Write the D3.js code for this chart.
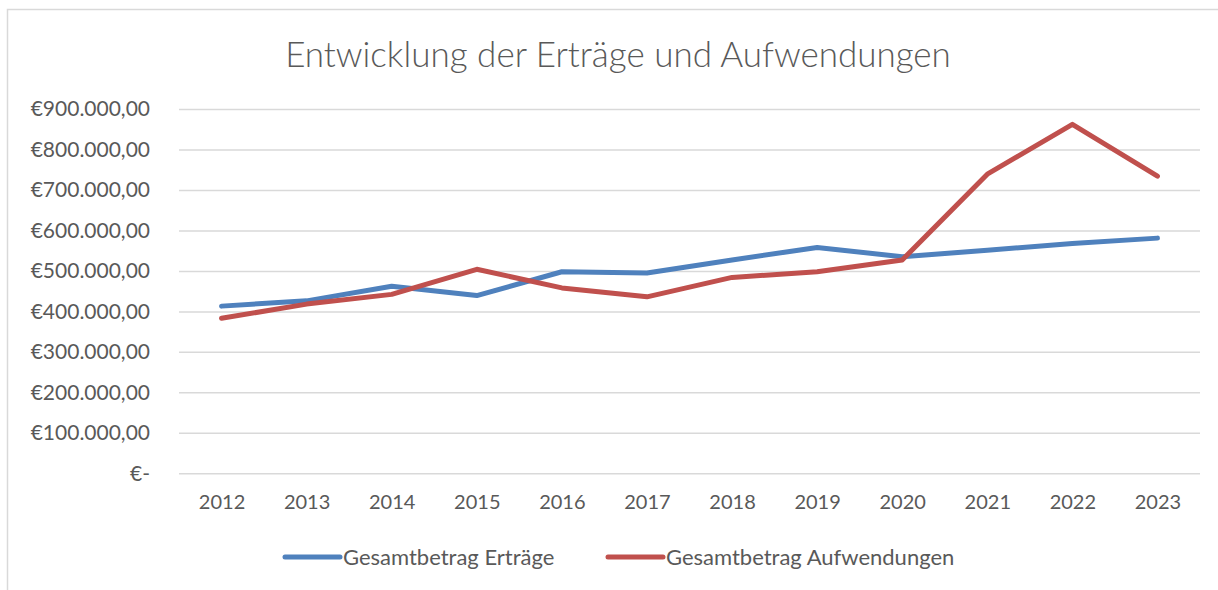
<!DOCTYPE html>
<html lang="de">
<head>
<meta charset="UTF-8">
<title>Entwicklung der Erträge und Aufwendungen</title>
<style>
  body { margin: 0; background: #fff; }
  svg text { font-family: Lato, "Open Sans", sans-serif; fill: #595959; }
</style>
</head>
<body>
<script src="https://d3js.org/d3.v7.min.js"></script>
<script>
// data
var years = ["2012","2013","2014","2015","2016","2017","2018","2019","2020","2021","2022","2023"];
var ertraege = [413000, 426000, 462000, 439000, 498000, 495000, 527000, 558000, 535000, 551000, 568000, 581000];
var aufwendungen = [383000, 418000, 442000, 504000, 458000, 436000, 484000, 498000, 527000, 739000, 862000, 734000];
var yTicks = [0, 100000, 200000, 300000, 400000, 500000, 600000, 700000, 800000, 900000];
var seriesNames = ["Gesamtbetrag Erträge", "Gesamtbetrag Aufwendungen"];
var colors = ["#4F81BD", "#C0504D"];

var width = 1218, height = 590;
var plot = {left: 179, right: 1200, top: 109, bottom: 473.3};

var svg = d3.select("body").append("svg")
    .attr("width", width)
    .attr("height", height);

// chart frame
svg.append("rect")
    .attr("x", 7.5).attr("y", 9.5)
    .attr("width", 1230).attr("height", 600)
    .attr("fill", "none")
    .attr("stroke", "#D9D9D9")
    .attr("stroke-width", 1.5);

svg.append("text")
    .attr("x", 618).attr("y", 67)
    .attr("text-anchor", "middle")
    .style("font-size", "35px")
    .style("font-weight", 300)
    .text("Entwicklung der Erträge und Aufwendungen");

var x = d3.scalePoint()
    .domain(years)
    .range([plot.left, plot.right])
    .padding(0.5);

var y = d3.scaleLinear()
    .domain([0, 900000])
    .range([plot.bottom, plot.top]);

function euro(v) {
    if (v === 0) return "€-";
    return "€" + d3.format(",.2f")(v).replace(/,/g, "#").replace(".", ",").replace(/#/g, ".");
}

// gridlines
var grid = svg.append("g")
    .attr("transform", "translate(" + plot.left + ",0)")
    .call(d3.axisLeft(y).tickValues(yTicks).tickSize(-(plot.right - plot.left)).tickFormat(""));
grid.select(".domain").remove();
grid.selectAll("line").attr("stroke", "#D9D9D9").attr("stroke-width", 1.5);

// y labels
var yAxis = svg.append("g")
    .attr("transform", "translate(" + plot.left + ",0)")
    .call(d3.axisLeft(y).tickValues(yTicks).tickSize(0).tickPadding(29).tickFormat(euro));
yAxis.select(".domain").remove();
yAxis.selectAll("text").style("font-size", "21px").attr("fill", "#595959");

// x labels
var xAxis = svg.append("g")
    .attr("transform", "translate(0," + plot.bottom + ")")
    .call(d3.axisBottom(x).tickSize(0).tickPadding(22));
xAxis.select(".domain").remove();
xAxis.selectAll("text").style("font-size", "20px").attr("fill", "#595959");

var line = d3.line()
    .x(function (d, i) { return x(years[i]); })
    .y(function (d) { return y(d); });

[ertraege, aufwendungen].forEach(function (s, k) {
    svg.append("path")
        .datum(s)
        .attr("d", line)
        .attr("fill", "none")
        .attr("stroke", colors[k])
        .attr("stroke-width", 5)
        .attr("stroke-linejoin", "round")
        .attr("stroke-linecap", "round");
});

// legend
var legendX = [285, 608];
seriesNames.forEach(function (name, k) {
    var g = svg.append("g").attr("transform", "translate(" + legendX[k] + ",557)");
    g.append("line")
        .attr("x1", 0).attr("x2", 55)
        .attr("stroke", colors[k])
        .attr("stroke-width", 5)
        .attr("stroke-linecap", "round");
    g.append("text")
        .attr("x", 58).attr("y", 8)
        .style("font-size", "22px")
        .text(name);
});
</script>
</body>
</html>
